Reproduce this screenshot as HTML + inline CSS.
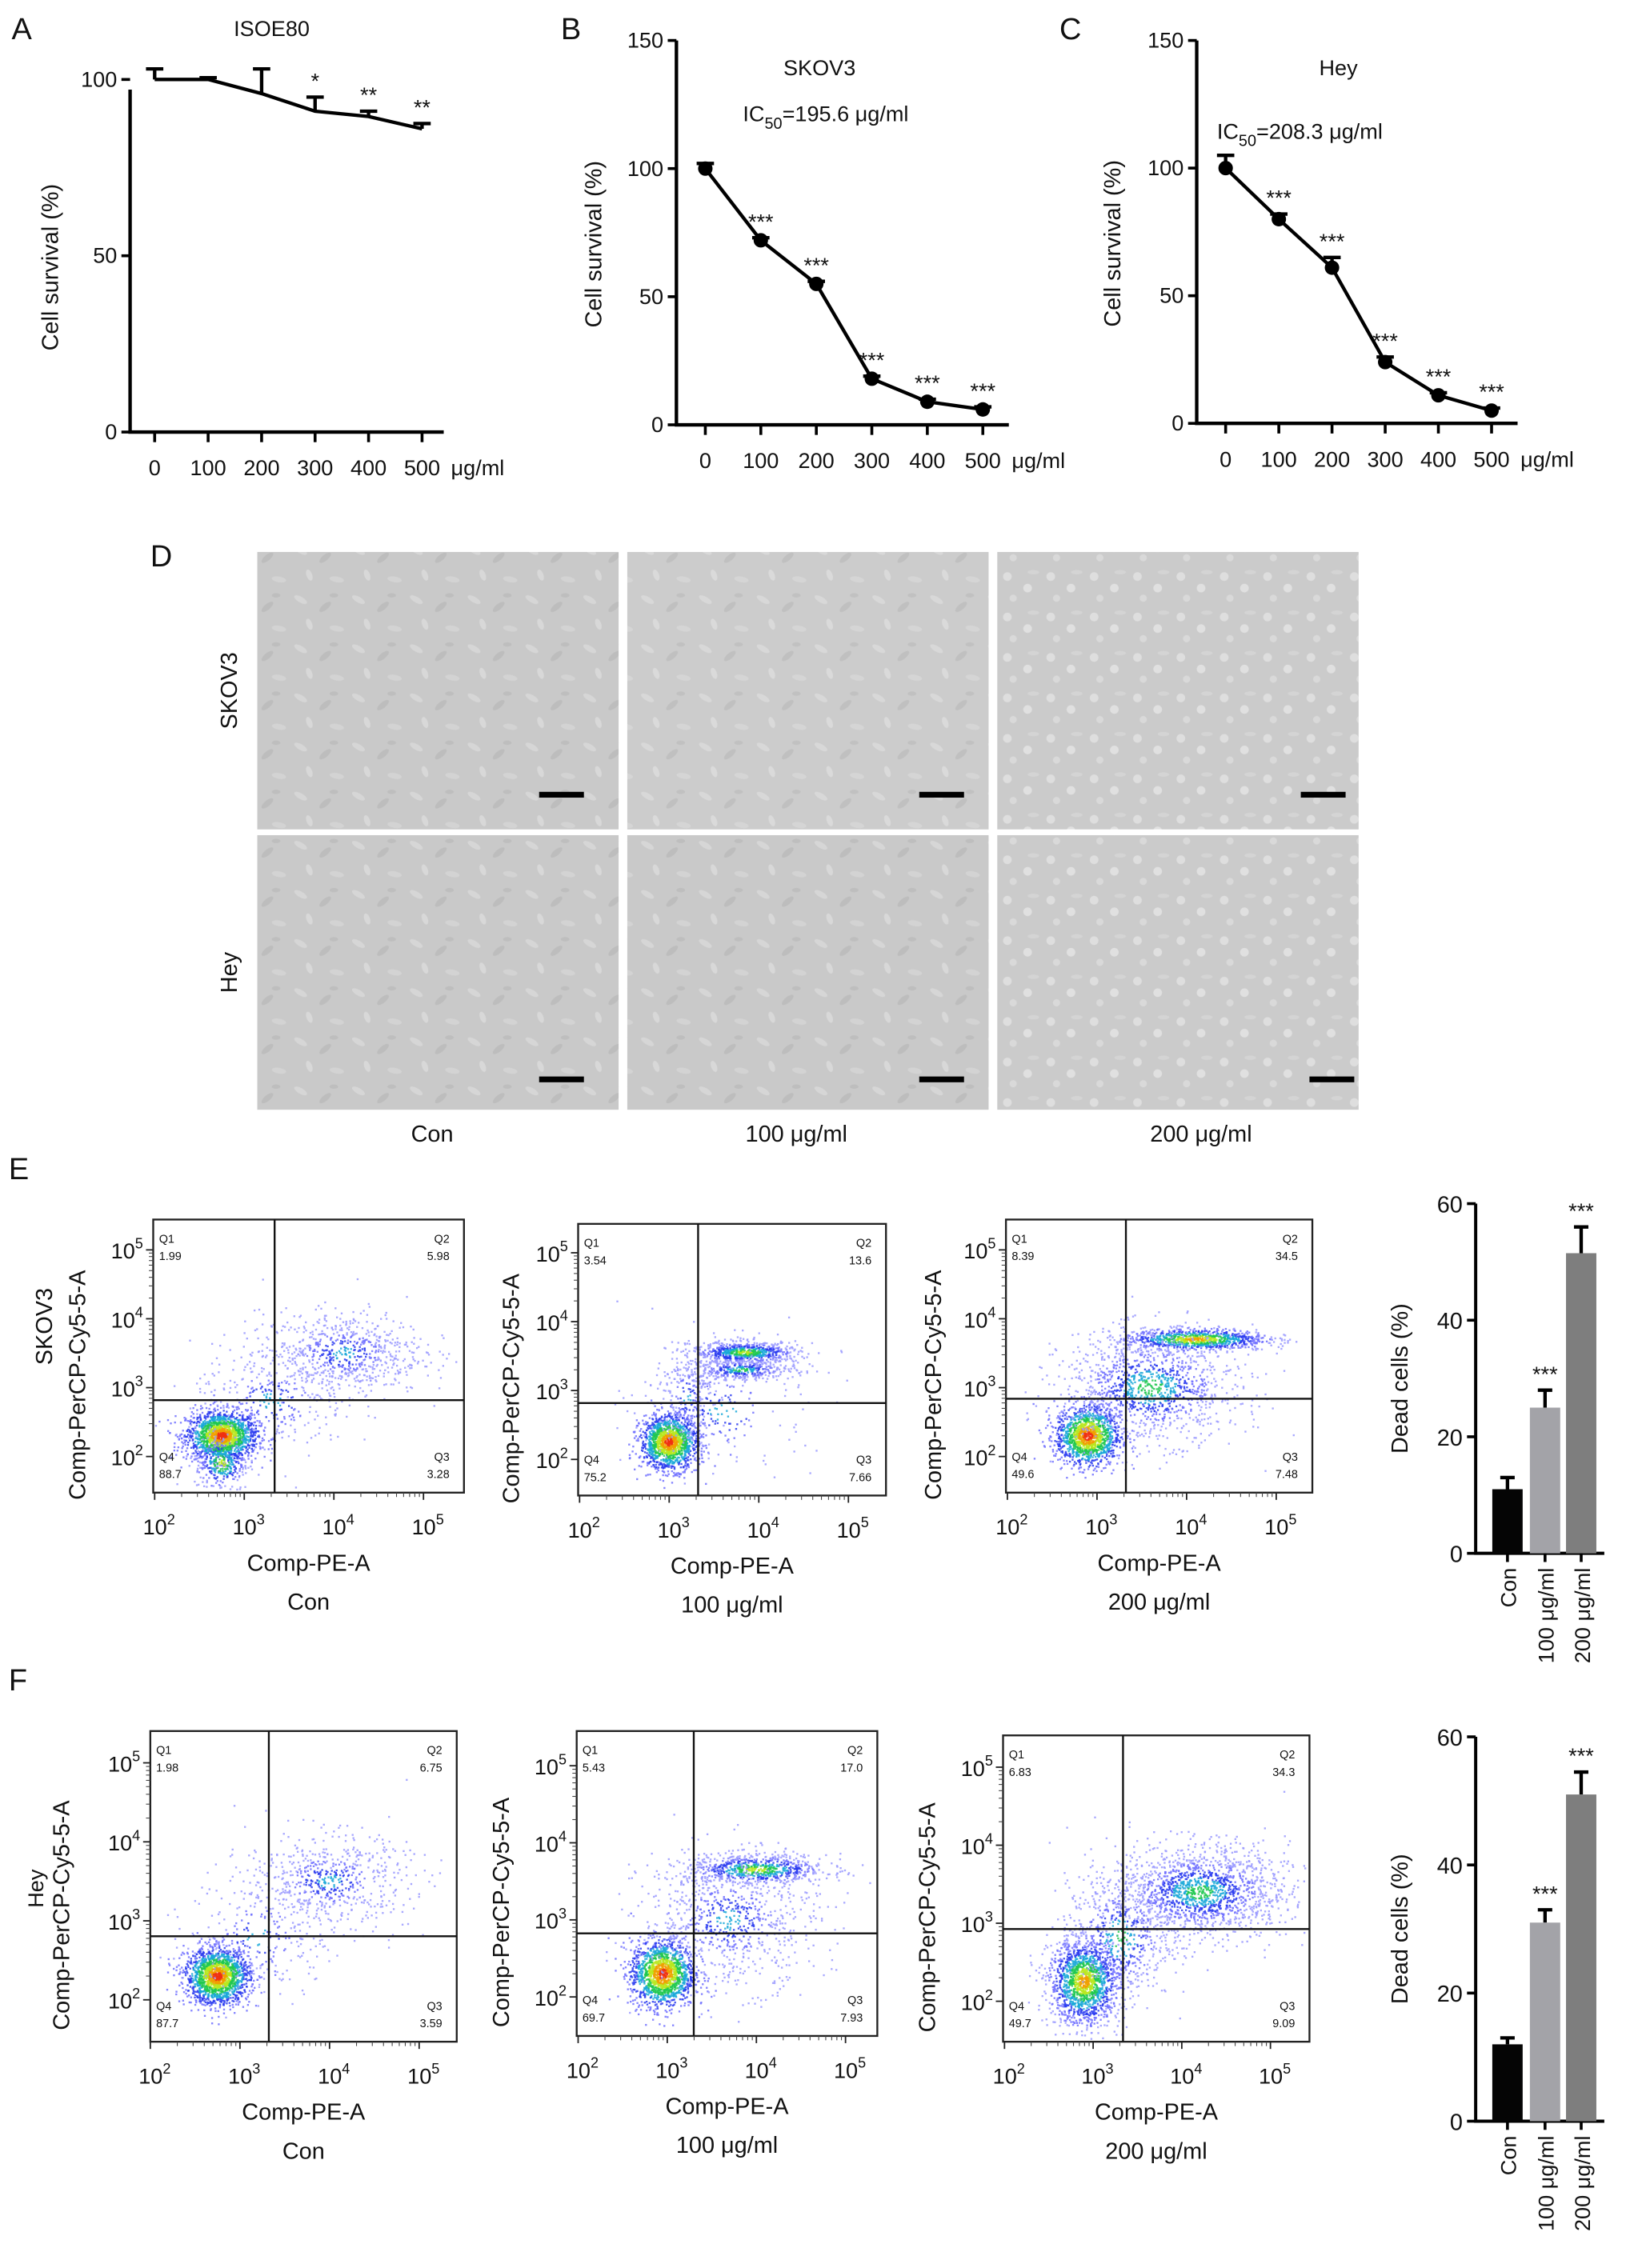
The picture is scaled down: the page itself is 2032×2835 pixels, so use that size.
<!DOCTYPE html>
<html><head><meta charset="utf-8">
<style>
html,body{margin:0;padding:0;background:#fff;}
svg{display:block;}
text{font-family:"Liberation Sans",Arial,sans-serif;fill:#111;}
</style></head>
<body>
<svg id="fig" xmlns="http://www.w3.org/2000/svg" width="2032" height="2835" viewBox="0 0 1125 1569.6">
<defs>
<pattern id="cells" width="40" height="34" patternUnits="userSpaceOnUse">
<rect width="40" height="34" fill="#c9c9c9"/>
<ellipse cx="8" cy="7" rx="5" ry="2" fill="#d6d6d6" transform="rotate(30 8 7)"/>
<ellipse cx="25" cy="12" rx="5" ry="2" fill="#bdbdbd" transform="rotate(-40 25 12)"/>
<ellipse cx="14" cy="24" rx="4" ry="2" fill="#d8d8d8" transform="rotate(70 14 24)"/>
<ellipse cx="33" cy="27" rx="5" ry="2" fill="#d3d3d3" transform="rotate(10 33 27)"/>
<ellipse cx="31" cy="4" rx="3" ry="1.5" fill="#bebebe"/>
</pattern>
<pattern id="cells2" width="30" height="28" patternUnits="userSpaceOnUse">
<rect width="30" height="28" fill="#cbcbcb"/>
<circle cx="7" cy="7" r="3" fill="#dedede"/>
<circle cx="21" cy="15" r="3" fill="#e0e0e0"/>
<circle cx="11" cy="22" r="2.5" fill="#d9d9d9"/>
<ellipse cx="25" cy="4" rx="4" ry="1.5" fill="#d4d4d4"/>
</pattern>
</defs>

<text x="8" y="27" font-size="21">A</text>
<text x="388" y="27" font-size="21">B</text>
<text x="733" y="27" font-size="21">C</text>
<text x="104" y="392" font-size="21">D</text>
<text x="6" y="816" font-size="21">E</text>
<text x="6" y="1170" font-size="21">F</text>

<g id="lines"></g>

<g>
<rect x="178" y="382" width="250" height="192" fill="url(#cells)"/>
<rect x="434" y="382" width="250" height="192" fill="url(#cells)" opacity="0.95"/>
<rect x="690" y="382" width="250" height="192" fill="url(#cells2)"/>
<rect x="178" y="578" width="250" height="190" fill="url(#cells)"/>
<rect x="434" y="578" width="250" height="190" fill="url(#cells)"/>
<rect x="690" y="578" width="250" height="190" fill="url(#cells2)"/>
<rect x="373" y="548" width="31" height="4" fill="#000"/>
<rect x="636" y="548" width="31" height="4" fill="#000"/>
<rect x="900" y="548" width="31" height="4" fill="#000"/>
<rect x="373" y="745" width="31" height="4" fill="#000"/>
<rect x="636" y="745" width="31" height="4" fill="#000"/>
<rect x="906" y="745" width="31" height="4" fill="#000"/>
<text transform="translate(164,478) rotate(-90)" text-anchor="middle" font-size="16">SKOV3</text>
<text transform="translate(164,673) rotate(-90)" text-anchor="middle" font-size="16">Hey</text>
<text x="299" y="790" text-anchor="middle" font-size="16">Con</text>
<text x="551" y="790" text-anchor="middle" font-size="16">100 μg/ml</text>
<text x="831" y="790" text-anchor="middle" font-size="16">200 μg/ml</text>
</g>

<g id="flow"></g>
<g id="bars"></g>
</svg>

<script>
const doses = [0, 100, 200, 300, 400, 500];
const isoeMean = [100, 100, 96, 91, 89.5, 86];
const isoeErr = [103, 100.5, 103, 95, 91, 87.5];
const isoeStars = ["", "", "", "*", "**", "**"];
const skovMean = [100, 72, 55, 18, 9, 6];
const skovErr = [102, 73, 56, 19, 10, 7];
const heyMean = [100, 80, 61, 24, 11, 5];
const heyErr = [105, 82, 65, 26, 12, 6];
const sigStars = ["", "***", "***", "***", "***", "***"];
const barCats = ["Con", "100 μg/ml", "200 μg/ml"];
const deadSkov = [11, 25, 51.5];
const deadSkovErr = [13, 28, 56];
const deadHey = [12, 31, 51];
const deadHeyErr = [13, 33, 54.5];
const barStars = ["", "***", "***"];
const barColors = ["#050505", "#a3a3a8", "#7e7e7e"];
const quadSkov = [["1.99","5.98","3.28","88.7"],["3.54","13.6","7.66","75.2"],["8.39","34.5","7.48","49.6"]];
const quadHey = [["1.98","6.75","3.59","87.7"],["5.43","17.0","7.93","69.7"],["6.83","34.3","9.09","49.7"]];

const NS = "http://www.w3.org/2000/svg";
function mk(parent, tag, attrs, txt) {
  const e = document.createElementNS(NS, tag);
  for (const k in attrs) e.setAttribute(k, attrs[k]);
  if (txt !== undefined) e.textContent = txt;
  parent.appendChild(e);
  return e;
}

const gl = document.getElementById('lines');
function lineChart(cfg) {
  const g = mk(gl, 'g', {});
  
  
  const X = d => cfg.x0 + (cfg.x1 - cfg.x0) * d / 500;
  const Y = v => cfg.yBot - (cfg.yBot - cfg.yTop) * v / cfg.ymax;
  const ax = mk(g, 'path', {d:`M${cfg.axX},${cfg.axTop}V${cfg.yBot}H${cfg.axEnd}`, fill:'none', stroke:'#000', 'stroke-width':2.4});
  
  
  cfg.yticks.forEach(t => {
    mk(g, 'line', {x1:cfg.axX-6, x2:cfg.axX, y1:Y(t), y2:Y(t), stroke:'#000','stroke-width':2});
    const tl = mk(g, 'text', {x:cfg.axX-9, y:Y(t)+5, 'text-anchor':'end','font-size':15}, String(t));
    
    
  });
  doses.forEach(d => {
    mk(g, 'line', {x1:X(d), x2:X(d), y1:cfg.yBot, y2:cfg.yBot+7, stroke:'#000','stroke-width':2});
    const tl = mk(g, 'text', {x:X(d), y:cfg.yBot+30, 'text-anchor':'middle','font-size':15}, String(d));
    
    
  });
  const u = mk(g, 'text', {x:X(500)+20, y:cfg.yBot+30, 'font-size':15}, 'μg/ml');
  
  
  const yl = mk(g, 'text', {transform:`translate(${cfg.ylabX},${(cfg.yTop+cfg.yBot)/2+8}) rotate(-90)`, 'text-anchor':'middle','font-size':16}, 'Cell survival (%)');
  
  
  const tt = mk(g, 'text', {x:cfg.titleX, y:cfg.titleY, 'text-anchor':'middle','font-size':15}, cfg.title);
  
  
  if (cfg.ic) {
    const ic = mk(g, 'text', {x:cfg.icX, y:cfg.icY, 'font-size':15});
    
    
    mk(ic, 'tspan', {}, 'IC');
    mk(ic, 'tspan', {dy:5, 'font-size':11}, '50');
    mk(ic, 'tspan', {dy:-5}, '=' + cfg.ic + ' μg/ml');
  }
  cfg.mean.forEach((m, i) => {
    const e = mk(g, 'path', {d:`M${X(doses[i])},${Y(m)}V${Y(cfg.err[i])}M${X(doses[i])-6},${Y(cfg.err[i])}H${X(doses[i])+6}`, stroke:'#000','stroke-width':2.4, fill:'none'});
    
    
  });
  const p = mk(g, 'polyline', {points: cfg.mean.map((m,i)=>`${X(doses[i])},${Y(m)}`).join(' '), fill:'none', stroke:'#000','stroke-width':2.4});
  
  
  if (cfg.dots) cfg.mean.forEach((m, i) => {
    const c = mk(g, 'circle', {cx:X(doses[i]), cy:Y(m), r:5, fill:'#000'});
    
    
  });
  cfg.stars.forEach((s, i) => {
    if (!s) return;
    const st = mk(g, 'text', {x:X(doses[i]), y:Y(cfg.err[i]) - 6, 'text-anchor':'middle','font-size':15}, s);
    
    
  });
}
lineChart({name:'chart-isoe80', x0:107, x1:292, axX:90, axTop:62, axEnd:307, yTop:55, yBot:299, ymax:100, yticks:[0,50,100], mean:isoeMean, err:isoeErr, stars:isoeStars, dots:false, title:'ISOE80', titleX:188, titleY:25, ylabX:40});
lineChart({name:'chart-skov3', x0:488, x1:680, axX:468, axTop:28, axEnd:698, yTop:28, yBot:294, ymax:150, yticks:[0,50,100,150], mean:skovMean, err:skovErr, stars:sigStars, dots:true, title:'SKOV3', titleX:567, titleY:52, ic:'195.6', icX:514, icY:84, ylabX:416});
lineChart({name:'chart-hey', x0:848, x1:1032, axX:828, axTop:28, axEnd:1050, yTop:28, yBot:293, ymax:150, yticks:[0,50,100,150], mean:heyMean, err:heyErr, stars:sigStars, dots:true, title:'Hey', titleX:926, titleY:52, ic:'208.3', icX:842, icY:96, ylabX:775});

// ---------- flow plots ----------
const gf = document.getElementById('flow');
let seed = 12345;
function rnd() { seed = (seed * 1103515245 + 12345) & 0x7fffffff; return seed / 0x7fffffff; }
function gauss() { let u = rnd() || 1e-6, v = rnd(); return Math.sqrt(-2*Math.log(u))*Math.cos(2*Math.PI*v); }
const heat = ['#f03010','#f0a000','#b8e820','#20c850','#1aa8d8','#2c3cf0','#7070ff','#9a9aff'];
// cluster specs: [cx(log), cy(log), sx, sy, n, density]
const clustersSkov = [
  [[2.75,2.3,0.2,0.18,1600,1],[2.75,1.9,0.15,0.2,300,0.5],[4.1,3.5,0.45,0.3,700,0],[3.3,2.8,0.45,0.4,300,0]],
  [[3.0,2.25,0.16,0.2,1400,1],[3.85,3.55,0.3,0.08,700,0.5],[3.8,3.3,0.3,0.08,400,0.3],[3.2,2.9,0.15,0.35,200,0],[3.6,2.7,0.5,0.5,200,0]],
  [[2.9,2.3,0.18,0.22,1300,1],[4.1,3.7,0.4,0.08,900,0.7],[3.6,3.0,0.5,0.4,1200,0.2]]
];
const clustersHey = [
  [[2.75,2.3,0.18,0.18,1600,1],[4.0,3.5,0.45,0.3,600,0],[3.2,2.8,0.4,0.4,250,0]],
  [[2.95,2.3,0.18,0.22,1400,1],[4.0,3.65,0.4,0.1,700,0.5],[3.7,3.0,0.5,0.45,800,0]],
  [[2.9,2.25,0.2,0.28,1500,0.8],[4.2,3.4,0.5,0.3,1600,0.3],[3.3,2.8,0.3,0.4,500,0.2]]
];
function flowPlot(p) {
  const g = mk(gf, 'g', {});
  
  
  const X = l => p.xd2 + (p.xd5 - p.xd2) * (l - 2) / 3;
  const Y = l => p.yd2 - (p.yd2 - p.yd5) * (l - 2) / 3;
  const dots = mk(g, 'g', {});
  
  
  p.clusters.forEach(c => {
    for (let i = 0; i < c[4]; i++) {
      const a = gauss(), b = gauss();
      const r = Math.sqrt(a*a + b*b);
      const px = X(c[0] + a*c[2]), py = Y(c[1] + b*c[3]);
      if (px < p.bx0+1 || px > p.bx1-1 || py < p.by0+1 || py > p.by1-1) continue;
      let idx = r < 0.3 ? 0 : r < 0.6 ? 1 : r < 0.9 ? 2 : r < 1.25 ? 3 : r < 1.6 ? 4 : r < 2.1 ? 5 : 6;
      idx = Math.min(7, idx + Math.round((1 - c[5]) * 4));
      mk(dots, 'rect', {x:px-0.6, y:py-0.6, width:1.3, height:1.3, fill:heat[idx], opacity:0.85});
    }
  });
  const box = mk(g, 'rect', {x:p.bx0, y:p.by0, width:p.bx1-p.bx0, height:p.by1-p.by0, fill:'none', stroke:'#222','stroke-width':1.3});
  
  
  const gate = mk(g, 'path', {d:`M${p.gx},${p.by0}V${p.by1}M${p.bx0},${p.gy}H${p.bx1}`, stroke:'#111','stroke-width':1.3});
  
  
  for (let d = 2; d <= 5; d++) {
    mk(g, 'line', {x1:X(d), x2:X(d), y1:p.by1, y2:p.by1+5, stroke:'#222'});
    mk(g, 'line', {x1:p.bx0-5, x2:p.bx0, y1:Y(d), y2:Y(d), stroke:'#222'});
    const xt = mk(g, 'text', {x:X(d)+3, y:p.by1+29, 'text-anchor':'middle','font-size':15});
    
    
    mk(xt, 'tspan', {}, '10');
    mk(xt, 'tspan', {dy:-7, 'font-size':10}, String(d));
    const yt = mk(g, 'text', {x:p.bx0-7, y:Y(d)+6, 'text-anchor':'end','font-size':15});
    
    
    mk(yt, 'tspan', {}, '10');
    mk(yt, 'tspan', {dy:-7, 'font-size':10}, String(d));
    for (let m = 2; m < 10 && d < 5; m++) {
      const lx = d + Math.log10(m);
      mk(g, 'line', {x1:X(lx), x2:X(lx), y1:p.by1, y2:p.by1+3, stroke:'#444','stroke-width':0.6});
      mk(g, 'line', {x1:p.bx0-3, x2:p.bx0, y1:Y(lx), y2:Y(lx), stroke:'#444','stroke-width':0.6});
    }
  }
  const qn = ['Q1','Q2','Q3','Q4'];
  const qpos = [[p.bx0+4,p.by0+16,'start'],[p.bx1-10,p.by0+16,'end'],[p.bx1-10,p.by1-22,'end'],[p.bx0+4,p.by1-22,'start']];
  qpos.forEach((q, i) => {
    const t1 = mk(g, 'text', {x:q[0], y:q[1], 'text-anchor':q[2], 'font-size':8, fill:'#444'}, qn[i]);
    
    
    const t2 = mk(g, 'text', {x:q[0], y:q[1]+12, 'text-anchor':q[2], 'font-size':8, fill:'#444'}, p.quad[i]);
    
    
  });
  const cx = (p.bx0 + p.bx1) / 2;
  const xl = mk(g, 'text', {x:cx, y:p.by1+54, 'text-anchor':'middle','font-size':16}, 'Comp-PE-A');
  
  
  const cl = mk(g, 'text', {x:cx, y:p.by1+81, 'text-anchor':'middle','font-size':16}, p.cond);
  
  
  const yl = mk(g, 'text', {transform:`translate(${p.ylx+6},${(p.by0+p.by1)/2+20}) rotate(-90)`, 'text-anchor':'middle','font-size':16}, 'Comp-PerCP-Cy5-5-A');
  
  
}
const conds = ['Con','100 μg/ml','200 μg/ml'];
// [bx0,bx1,by0,by1,gx,gy,xd2,xd5,yd2,yd5,ylabelX]
const eBoxes = [[106,321,844,1033,190,969,107,293,1008,865,53],[400,613,847,1035,483,971,401,587,1010,867,353],[696,908,844,1033,779,968,697,883,1008,865,645]];
const fBoxes = [[104,316,1198,1413,186,1340,104,290,1384,1220,42],[399,607,1198,1409,480,1338,400,585,1382,1222,346],[694,906,1201,1413,777,1335,695,879,1385,1223,641]];
eBoxes.forEach((b, i) => flowPlot({name:'flow-skov3-'+i, bx0:b[0], bx1:b[1], by0:b[2], by1:b[3], gx:b[4], gy:b[5], xd2:b[6], xd5:b[7], yd2:b[8], yd5:b[9], ylx:b[10], quad:quadSkov[i], clusters:clustersSkov[i], cond:conds[i]}));
fBoxes.forEach((b, i) => flowPlot({name:'flow-hey-'+i, bx0:b[0], bx1:b[1], by0:b[2], by1:b[3], gx:b[4], gy:b[5], xd2:b[6], xd5:b[7], yd2:b[8], yd5:b[9], ylx:b[10], quad:quadHey[i], clusters:clustersHey[i], cond:conds[i]}));
const sk = mk(gf, 'text', {transform:'translate(36,918) rotate(-90)', 'text-anchor':'middle','font-size':16}, 'SKOV3');


const hy = mk(gf, 'text', {transform:'translate(30,1307) rotate(-90)', 'text-anchor':'middle','font-size':15}, 'Hey');



// ---------- bar charts ----------
const gb = document.getElementById('bars');
function barChart(c) {
  const g = mk(gb, 'g', {});
  
  
  const Y = v => c.y0 - (c.y0 - c.y60) * v / 60;
  const xs = [1043, 1069, 1094];
  mk(g, 'path', {d:`M${c.ax},${Y(60)}V${c.y0}H1110`, fill:'none', stroke:'#000','stroke-width':2.2});
  [0,20,40,60].forEach(t => {
    mk(g, 'line', {x1:c.ax-6, x2:c.ax, y1:Y(t), y2:Y(t), stroke:'#000','stroke-width':2});
    const tl = mk(g, 'text', {x:c.ax-9, y:Y(t)+6, 'text-anchor':'end','font-size':16}, String(t));
    
    
  });
  c.vals.forEach((v, i) => {
    const eb = mk(g, 'path', {d:`M${xs[i]},${Y(v)}V${Y(c.errs[i])}M${xs[i]-5},${Y(c.errs[i])}H${xs[i]+5}`, stroke:'#000','stroke-width':2.4});
    
    
    const r = mk(g, 'rect', {x:xs[i]-10.5, y:Y(v), width:21, height:c.y0-Y(v), fill:barColors[i]});
    
    
    mk(g, 'line', {x1:xs[i], x2:xs[i], y1:c.y0, y2:c.y0+6, stroke:'#000','stroke-width':2});
    const lab = mk(g, 'text', {transform:`translate(${xs[i]+6},${c.y0+10}) rotate(-90)`, 'text-anchor':'end','font-size':15}, barCats[i]);
    
    
    if (barStars[i]) {
      const st = mk(g, 'text', {x:xs[i], y:Y(c.errs[i])-6, 'text-anchor':'middle','font-size':15}, barStars[i]);
      
      
    }
  });
  const yl = mk(g, 'text', {transform:`translate(${c.ax-47},${(c.y0+Y(60))/2}) rotate(-90)`, 'text-anchor':'middle','font-size':16}, 'Dead cells (%)');
  
  
}
barChart({name:'bar-chart-skov3', ax:1021, y0:1075, y60:833, vals:deadSkov, errs:deadSkovErr});
barChart({name:'bar-chart-hey', ax:1021, y0:1468, y60:1202, vals:deadHey, errs:deadHeyErr});
</script>
</body></html>
